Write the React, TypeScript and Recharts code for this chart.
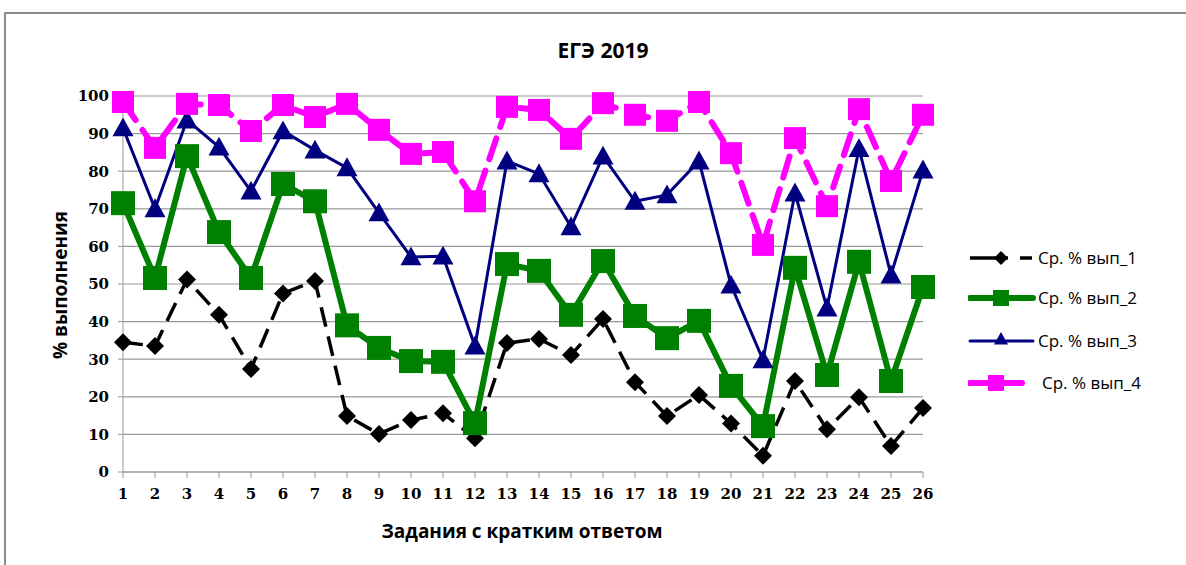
import React from "react";
import { LineChart, Line, XAxis, YAxis, CartesianGrid } from "recharts";

const tasks = [1, 2, 3, 4, 5, 6, 7, 8, 9, 10, 11, 12, 13, 14, 15, 16, 17, 18, 19, 20, 21, 22, 23, 24, 25, 26];
const vyp1 = [34.5, 33.5, 51.2, 41.8, 27.4, 47.5, 50.8, 14.9, 10.1, 13.8, 15.6, 9, 34.3, 35.4, 31.1, 40.7, 23.9, 14.9, 20.5, 12.9, 4.3, 24.2, 11.4, 19.9, 6.9, 17];
const vyp2 = [71.5, 51.6, 84, 63.8, 51.6, 76.6, 72, 39, 33, 29.5, 29.3, 13, 55.3, 53.5, 41.8, 56.1, 41.5, 35.6, 40.2, 22.9, 12.2, 54.3, 25.8, 55.9, 24.2, 49.2];
const vyp3 = [91.5, 70, 93.6, 86.4, 74.7, 90.7, 85.6, 80.9, 68.9, 57.2, 57.4, 33.5, 82.7, 79.3, 65.2, 84, 72, 73.7, 82.7, 49.7, 29.8, 74.2, 43.6, 86, 52.4, 80.3];
const vyp4 = [98.4, 86.2, 97.9, 97.6, 90.7, 97.6, 94.4, 97.9, 91, 84.6, 85.1, 72, 97.1, 96.3, 88.6, 98.1, 95, 93.4, 98.4, 84.8, 60.4, 88.8, 70.7, 96.5, 77.4, 95];
const yTicks = [0, 10, 20, 30, 40, 50, 60, 70, 80, 90, 100];
const seriesNames = ["Ср. % вып_1", "Ср. % вып_2", "Ср. % вып_3", "Ср. % вып_4"];

const data = tasks.map((t, i) => ({ task: t, s1: vyp1[i], s2: vyp2[i], s3: vyp3[i], s4: vyp4[i] }));

const serifFont = "'DejaVu Serif', 'Liberation Serif', serif";
const sansFont = "'Open Sans', 'Liberation Sans', sans-serif";

function Diamond({ cx, cy, r = 8, color = "#000" }: any) {
  return <polygon points={`${cx},${cy - r} ${cx + r},${cy} ${cx},${cy + r} ${cx - r},${cy}`} fill={color} />;
}
function Square({ cx, cy, s = 11, color }: any) {
  return <rect x={cx - s} y={cy - s} width={s * 2} height={s * 2} fill={color} />;
}
function Tri({ cx, cy, r = 9, color }: any) {
  return <polygon points={`${cx},${cy - r} ${cx + r},${cy + r * 0.8} ${cx - r},${cy + r * 0.8}`} fill={color} />;
}

const dot1 = (p: any) => <Diamond key={`a${p.index}`} cx={p.cx} cy={p.cy} r={9} color="#000" />;
const dot2 = (p: any) => <Square key={`b${p.index}`} cx={p.cx} cy={p.cy} s={12} color="#008000" />;
const dot3 = (p: any) => <Tri key={`c${p.index}`} cx={p.cx} cy={p.cy} r={10.5} color="#000080" />;
const dot4 = (p: any) => <Square key={`d${p.index}`} cx={p.cx} cy={p.cy} s={11} color="#ff00ff" />;

function LegendBox() {
  const rows = [
    { y: 18, color: "#000", w: 3.5, mark: <Diamond cx={33} cy={18} r={7} color="#000" />, dash: true },
    { y: 58, color: "#008000", w: 6, mark: <Square cx={33} cy={58} s={8} color="#008000" /> },
    { y: 101, color: "#000080", w: 3, mark: <Tri cx={33} cy={99} r={7} color="#000080" /> },
    { y: 143, color: "#ff00ff", w: 6, mark: <Square cx={28} cy={143} s={8} color="#ff00ff" />, short: true },
  ];
  return (
    <svg width={220} height={170}>
      {rows.map((r, i) => (
        <g key={i}>
          {r.dash ? (
            <>
              <line x1={2} x2={40} y1={r.y} y2={r.y} stroke={r.color} strokeWidth={r.w} />
              <line x1={52} x2={64} y1={r.y} y2={r.y} stroke={r.color} strokeWidth={r.w} />
            </>
          ) : (
            <line x1={2} x2={r.short ? 54 : 65} y1={r.y} y2={r.y} stroke={r.color} strokeWidth={r.w} strokeLinecap="round" />
          )}
          {r.mark}
          <text x={r.short ? 74 : 70} y={r.y + 6} fontSize={17} fontFamily="'Open Sans', 'Liberation Sans', sans-serif" fill="#000">
            {seriesNames[i]}
          </text>
        </g>
      ))}
    </svg>
  );
}

export default function App() {
  return (
    <div style={{ position: "absolute", left: 0, top: 0, width: 1186, height: 565, background: "#fff", overflow: "hidden" }}>
      <div style={{ position: "absolute", left: 4, top: 12, width: 1200, height: 600, borderLeft: "2px solid #8c8c8c", borderTop: "2px solid #8c8c8c" }} />
      <div style={{ position: "absolute", left: 0, top: 36, width: 1206, textAlign: "center", fontFamily: sansFont, fontWeight: 700, fontSize: 21 }}>
        ЕГЭ 2019
      </div>
      <div style={{ position: "absolute", left: 377, top: 518, width: 290, textAlign: "center", fontFamily: sansFont, fontWeight: 700, fontSize: 19, whiteSpace: "nowrap" }}>
        Задания с кратким ответом
      </div>
      <div style={{ position: "absolute", left: -20, top: 272, width: 160, textAlign: "center", fontFamily: sansFont, fontWeight: 700, fontSize: 19, whiteSpace: "nowrap", transform: "rotate(-90deg)" }}>
        % выполнения
      </div>
      <div style={{ position: "absolute", left: 0, top: 0 }}>
        <LineChart width={1186} height={565} data={data} margin={{ top: 96, right: 263, bottom: 0, left: 0 }}>
          <CartesianGrid horizontal={true} vertical={false} stroke="#999" strokeWidth={1.2} />
          <XAxis
            dataKey="task"
            type="number"
            domain={[1, 26]}
            ticks={tasks}
            interval={0}
            height={93}
            stroke="#999"
            tickSize={6}
            tick={{ fill: "#000", fontFamily: serifFont, fontSize: 15, fontWeight: 700 }}
            tickMargin={10}
          />
          <YAxis
            domain={[0, 100]}
            ticks={yTicks}
            interval={0}
            width={123}
            stroke="#999"
            tickSize={5}
            tick={{ fill: "#000", fontFamily: serifFont, fontSize: 15, fontWeight: 700 }}
            tickMargin={9}
          />
          <Line dataKey="s1" name={seriesNames[0]} stroke="#000" strokeWidth={3.5} strokeDasharray="20 10" dot={dot1} isAnimationActive={false} />
          <Line dataKey="s2" name={seriesNames[1]} stroke="#008000" strokeWidth={6} dot={dot2} isAnimationActive={false} />
          <Line dataKey="s3" name={seriesNames[2]} stroke="#000080" strokeWidth={3} dot={dot3} isAnimationActive={false} />
          <Line dataKey="s4" name={seriesNames[3]} stroke="#ff00ff" strokeWidth={6} strokeDasharray="22 12" strokeLinecap="round" dot={dot4} isAnimationActive={false} />
        </LineChart>
      </div>
      <div style={{ position: "absolute", left: 968, top: 240 }}>
        <LegendBox />
      </div>
    </div>
  );
}
